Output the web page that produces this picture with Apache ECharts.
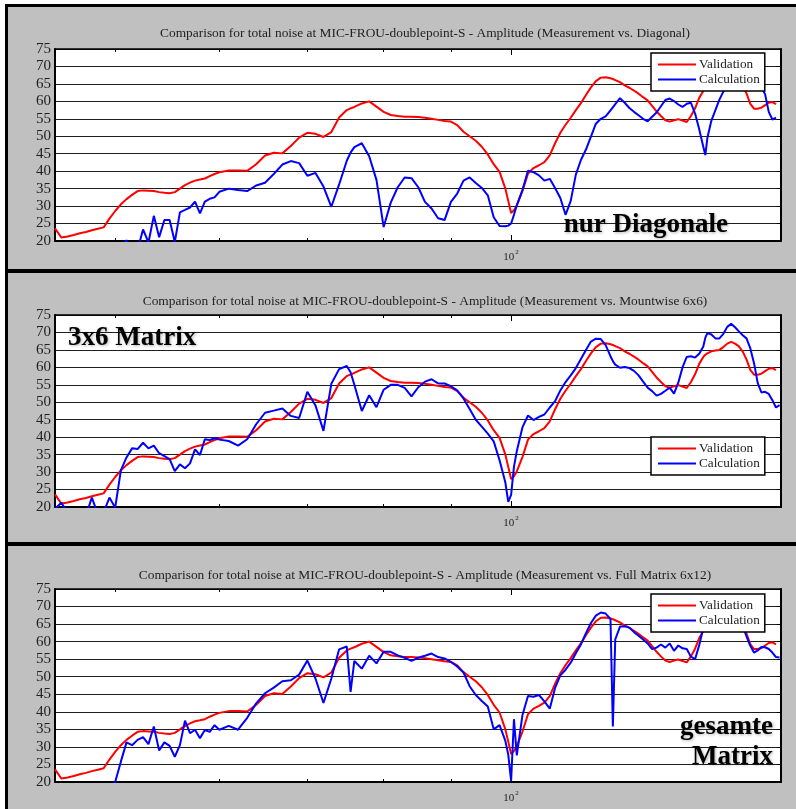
<!DOCTYPE html>
<html>
<head>
<meta charset="utf-8">
<title>Comparison for total noise at MIC-FROU-doublepoint-S</title>
<script src="https://cdn.jsdelivr.net/npm/echarts@6/dist/echarts.min.js"></script>
<style>
  html, body { margin: 0; padding: 0; background: #ffffff; }
  #chart { width: 796px; height: 809px; }
</style>
</head>
<body>
<div id="chart"></div>
<script>
// Frequency grid in Hz (half-hertz steps at the low end and at a few sharp features)
const freqs = [
  45, 45.5, 46, 46.5, 47, 47.5, 48, 48.5, 49, 49.5, 50, 50.5, 51, 51.5, 52, 52.5,
  53, 53.5, 54, 54.5, 55, 55.5, 56, 56.5, 57, 57.5, 58, 58.5, 59, 59.5, 60,
  61, 62, 63, 64, 65, 66, 67, 68, 69, 70, 71, 72, 73, 74, 75,
  75.5,
  76, 77, 78, 79, 80, 81, 82, 83, 84, 85, 86, 87, 88, 89, 90, 91, 92, 93, 94, 95, 96, 97, 98, 99,
  99.5, 100, 100.5,
  101, 102, 103, 104, 105, 106, 107, 108, 109, 110, 111, 112, 113, 114, 115, 116, 117, 118, 119,
  119.5,
  120, 121, 122, 123, 124, 125, 126, 127, 128, 129, 130, 131, 132, 133, 134, 135, 136, 137, 138, 139, 140,
  140.5,
  141, 142, 143, 144, 145, 146, 147, 148, 149, 150, 151, 152, 153, 154, 155, 156, 157, 158, 159, 160
];

// Measured level (dB) – identical in all three panels
const validation = [
  23.6, 21.0, 21.3, 21.7, 22.2, 22.6, 23.1, 23.5, 23.9, 26.4, 28.6, 30.5, 32.0, 33.2, 34.3, 34.5,
  34.4, 34.3, 34.0, 33.8, 33.7, 34.0, 35.0, 36.0, 36.7, 37.3, 37.6, 37.9, 38.6, 39.2, 39.7,
  40.2, 40.2, 40.1, 42.0, 44.5, 45.3, 45.1, 47.2, 49.6, 51.0, 50.7, 49.8, 51.2, 55.4, 57.5,
  58.0,
  58.4, 59.4, 60.0, 58.5, 57.0, 56.1, 55.8, 55.6, 55.6, 55.5, 55.3, 55.0, 54.7, 54.4, 54.2, 53.2,
  51.3, 50.0, 48.7, 47.0, 44.8, 42.0, 39.8, 35.0,
  31.5, 28.0, 28.8,
  30.2, 34.3, 39.3, 40.9, 41.7, 42.6, 44.5, 48.0, 51.0, 53.3, 55.3, 57.5, 59.5, 61.8, 64.0, 65.8, 66.8, 66.9, 66.6,
  66.4,
  66.1, 65.5, 64.6, 63.9, 63.1, 62.2, 61.2, 60.3, 58.7, 57.1, 55.8, 54.6, 54.2, 54.6, 54.9, 54.5, 54.1, 55.8, 58.0, 61.0, 63.0,
  63.6,
  64.0, 64.6, 64.8, 65.0, 65.8, 66.8, 67.3, 66.8, 66.0, 64.5, 62.3, 59.3, 57.9, 57.9, 58.2, 58.9, 59.6, 59.8, 59.2, null
];

// Calculation, diagonal terms only
const calcDiagonal = [
  null, null, null, null, null, null, null, null, null, null, null, 18.0, 20.2, 17.0, 17.5, 23.3,
  19.6, 27.2, 21.1, 26.0, 26.0, 19.7, 28.2, 28.9, 29.6, 31.3, 27.9, 31.3, 32.1, 32.5, 34.1,
  35.0, 34.6, 34.3, 35.9, 36.7, 39.2, 41.9, 42.9, 42.3, 38.7, 39.5, 35.6, 29.8, 36.2, 43.0,
  45.3,
  46.9, 48.0, 44.3, 37.5, 24.0, 31.0, 35.4, 38.2, 38.0, 35.4, 31.2, 29.3, 26.5, 26.0, 31.2, 33.6,
  37.3, 38.2, 36.6, 35.2, 33.1, 26.8, 24.3, 24.2,
  24.4, 25.0, 27.5,
  30.2, 34.6, 40.1, 39.7, 38.8, 37.3, 37.8, 35.2, 32.3, 27.5, 31.5, 39.0, 43.2, 46.2, 49.9, 53.6, 55.0, 55.7, 57.4,
  58.3,
  59.2, 60.9, 59.6, 58.1, 57.0, 56.0, 55.0, 54.3, 55.6, 56.8, 58.6, 60.4, 60.8, 60.1, 59.1, 58.4, 59.3, 59.6, 56.5, 52.0, 47.0,
  44.6,
  49.5, 54.5, 57.5, 60.5, 62.8, 64.5, 65.5, 66.5, 67.2, 67.5, 67.6, 67.4, 66.8, 65.8, 64.2, 62.0, 57.0, 54.8, 55.3, null
];

// Calculation, mountwise 6x6 matrix
const calcMountwise = [
  19.5, 21.2, 18.5, 17.0, 16.5, 17.5, 22.7, 18.0, 18.5, 22.7, 19.8, 30.5, 34.2, 36.8, 36.6, 38.4,
  36.8, 37.6, 35.4, 34.6, 33.7, 30.3, 32.2, 31.1, 32.5, 36.5, 34.9, 39.4, 39.2, 39.7, 39.3,
  38.9, 37.6, 39.4, 43.7, 47.0, 47.6, 48.2, 46.1, 45.5, 53.0, 49.1, 41.8, 55.3, 59.5, 60.4,
  58.6,
  55.0, 47.5, 52.0, 48.6, 53.6, 55.0, 55.0, 54.1, 51.7, 54.3, 55.9, 56.6, 55.4, 55.4, 54.6, 53.4,
  51.1, 48.1, 45.0, 43.0, 41.0, 38.8, 33.4, 27.0,
  21.5, 23.5, 31.5,
  36.0, 42.8, 46.2, 44.9, 45.8, 46.5, 48.5, 50.3, 53.4, 55.8, 57.7, 59.8, 62.4, 65.0, 67.4, 68.2, 68.1, 66.4, 63.2,
  61.8,
  60.8, 59.9, 60.1, 59.8, 59.0, 57.7, 55.9, 54.2, 53.2, 51.9, 52.4, 53.3, 54.2, 52.5, 55.6, 60.0, 63.0, 63.2, 62.8, 63.9, 66.0,
  68.5,
  69.8, 69.4, 68.3, 68.3, 69.6, 71.6, 72.5, 71.5, 70.3, 69.2, 68.3, 65.5, 61.2, 55.5, 52.8, 53.0, 52.4, 50.6, 48.5, 49.2
];

// Calculation, full 6x12 matrix
const calcFullMatrix = [
  null, null, null, null, null, null, null, null, null, 17.0, 20.0, 25.8, 31.3, 30.5, 32.0, 32.8,
  30.8, 35.8, 29.0, 31.3, 30.3, 27.2, 30.5, 37.5, 33.9, 34.9, 32.5, 34.8, 34.3, 36.2, 34.9,
  36.0, 34.9, 38.3, 42.4, 45.3, 46.9, 48.7, 49.0, 50.6, 54.6, 49.5, 42.5, 49.5, 57.8, 58.6,
  45.7,
  54.5, 52.3, 56.0, 53.8, 57.1, 57.1, 56.1, 55.4, 54.5, 55.4, 56.0, 56.6, 55.6, 55.2, 54.2, 52.9,
  51.2, 47.3, 44.8, 43.1, 41.5, 35.0, 36.2, 31.7,
  27.8, 20.3, 37.9,
  27.6, 39.0, 44.5, 44.3, 44.8, 43.0, 40.9, 46.8, 50.4, 52.0, 54.0, 56.7, 59.2, 62.4, 65.3, 67.4, 68.3, 68.0, 66.5,
  35.8,
  60.6, 64.3, 64.4, 64.0, 62.7, 61.7, 60.6, 59.5, 57.9, 58.3, 59.2, 58.3, 59.5, 57.4, 58.9, 58.1, 57.9, 55.7, 55.0, 59.0, 63.9,
  64.8,
  65.3, 65.8, 66.0, 66.4, 67.0, 67.6, 67.8, 67.2, 66.3, 64.5, 61.5, 58.8, 56.9, 57.5, 58.5, 58.4, 57.9, 56.9, 55.6, 55.5
];

const calculations = [calcDiagonal, calcMountwise, calcFullMatrix];

// Axis ticks
const xMinorTicks = [50, 60, 70, 80, 90];
const xDecadeTicks = [100];
const yMin = 20, yMax = 75, yStep = 5;

// Texts
const panelTitles = [
  'Comparison for total noise at MIC-FROU-doublepoint-S - Amplitude (Measurement vs. Diagonal)',
  'Comparison for total noise at MIC-FROU-doublepoint-S - Amplitude (Measurement vs. Mountwise 6x6)',
  'Comparison for total noise at MIC-FROU-doublepoint-S - Amplitude (Measurement vs. Full Matrix 6x12)'
];
const seriesNames = ['Validation', 'Calculation'];
const panelNotes = [
  [{ text: 'nur Diagonale', x: 728, y: 225, align: 'right' }],
  [{ text: '3x6 Matrix', x: 68, y: 338, align: 'left' }],
  [{ text: 'gesamte', x: 773, y: 727, align: 'right' },
   { text: 'Matrix', x: 773, y: 757, align: 'right' }]
];

// ---- layout ----
const SERIF = "'Liberation Serif', 'Times New Roman', serif";
const panels = [
  { top: 49,  height: 192, titleTop: 27,  legendTop: 53 },
  { top: 315, height: 192, titleTop: 295, legendTop: 437 },
  { top: 589, height: 193, titleTop: 569, legendTop: 594 }
];
// plain line used as legend marker
const LEGEND_LINE = 'path://M0,0H38V2H0Z';

const grid = [], xAxis = [], yAxis = [], series = [], title = [], legend = [], graphic = [];

panels.forEach((p, i) => {
  grid.push({
    left: 55, top: p.top, width: 726, height: p.height,
    show: true, backgroundColor: '#ffffff', borderWidth: 0
  });

  const logBase = {
    type: 'log', logBase: 10, min: 45, max: 160.4, gridIndex: i,
    splitLine: { show: false }, axisLabel: { show: false },
    axisTick: { show: false }, axisLine: { show: false }
  };
  const xBase = xAxis.length;
  // bottom frame + minor ticks
  xAxis.push(Object.assign({}, logBase, {
    position: 'bottom',
    axisLine: { show: true, onZero: false, lineStyle: { color: '#000', width: 2 } },
    axisTick: { show: true, inside: true, length: 3, customValues: xMinorTicks,
                lineStyle: { color: '#000', width: 1 } }
  }));
  // bottom decade tick + label
  xAxis.push(Object.assign({}, logBase, {
    position: 'bottom',
    axisTick: { show: true, inside: true, length: 6, customValues: xDecadeTicks,
                lineStyle: { color: '#000', width: 1 } },
    axisLabel: {
      show: true, customValues: xDecadeTicks, margin: 8,
      formatter: () => '{b|10}{e|2}',
      rich: {
        b: { fontFamily: SERIF, fontSize: 11, color: '#222', lineHeight: 14, verticalAlign: 'bottom' },
        e: { fontFamily: SERIF, fontSize: 7, color: '#222', lineHeight: 14, verticalAlign: 'top', padding: [0, 0, 0, 1] }
      }
    }
  }));
  // top frame + ticks
  xAxis.push(Object.assign({}, logBase, {
    position: 'top',
    axisLine: { show: true, onZero: false, lineStyle: { color: '#000', width: 1.5 } },
    axisTick: { show: true, inside: true, length: 3, customValues: xMinorTicks,
                lineStyle: { color: '#000', width: 1 } }
  }));
  xAxis.push(Object.assign({}, logBase, {
    position: 'top',
    axisTick: { show: true, inside: true, length: 6, customValues: xDecadeTicks,
                lineStyle: { color: '#000', width: 1 } }
  }));

  const yBase = yAxis.length;
  yAxis.push({
    type: 'value', gridIndex: i, position: 'left', min: yMin, max: yMax, interval: yStep,
    axisLine: { show: true, onZero: false, lineStyle: { color: '#000', width: 2 } },
    axisTick: { show: false },
    axisLabel: { fontFamily: SERIF, fontSize: 15, color: '#222', margin: 4 },
    splitLine: { show: true, lineStyle: { color: '#1e1e1e', width: 1 } }
  });
  yAxis.push({
    type: 'value', gridIndex: i, position: 'right', min: yMin, max: yMax, interval: yStep,
    axisLine: { show: true, onZero: false, lineStyle: { color: '#000', width: 2 } },
    axisTick: { show: true, inside: true, length: 4, lineStyle: { color: '#000', width: 1 } },
    axisLabel: { show: false },
    splitLine: { show: false }
  });

  const lineSeries = (name, values, color) => ({
    name, type: 'line', xAxisIndex: xBase, yAxisIndex: yBase,
    data: freqs.map((f, k) => [f, values[k]]),
    symbol: 'none', showSymbol: false, connectNulls: false, clip: true,
    lineStyle: { color, width: 2 }, itemStyle: { color },
    emphasis: { disabled: true }, silent: true
  });
  series.push(lineSeries(seriesNames[0], validation, '#ff0000'));
  series.push(lineSeries(seriesNames[1], calculations[i], '#0000ff'));

  title.push({
    text: panelTitles[i], left: 425, top: p.titleTop, textAlign: 'center', padding: 0,
    textStyle: { fontFamily: SERIF, fontSize: 13.4, fontWeight: 'normal', color: '#222' }
  });

  legend.push({
    data: seriesNames.map(name => ({ name, icon: LEGEND_LINE })),
    orient: 'vertical', left: 651, top: p.legendTop,
    padding: [5, 5, 5, 7], itemGap: 2, itemWidth: 38, itemHeight: 14,
    backgroundColor: '#ffffff', borderColor: '#000', borderWidth: 1.5, borderRadius: 0,
    selectedMode: false,
    textStyle: { fontFamily: SERIF, fontSize: 13.2, color: '#222', padding: [0, 0, 0, -2] }
  });

  panelNotes[i].forEach(n => {
    graphic.push({
      type: 'text', x: n.x, y: n.y, z: 50,
      style: {
        text: n.text, fill: '#000', font: 'bold 27px ' + SERIF,
        textAlign: n.align, textVerticalAlign: 'middle',
        textShadowColor: 'rgba(0,0,0,0.3)', textShadowBlur: 3,
        textShadowOffsetX: 1, textShadowOffsetY: 1
      }
    });
  });
});

// page margin and panel frames
graphic.push(
  { type: 'rect', z: 90, shape: { x: 0, y: 0, width: 796, height: 4 }, style: { fill: '#ffffff' } },
  { type: 'rect', z: 90, shape: { x: 0, y: 0, width: 5, height: 809 }, style: { fill: '#ffffff' } },
  { type: 'rect', z: 91, shape: { x: 5, y: 4, width: 791, height: 3 }, style: { fill: '#000' } },
  { type: 'rect', z: 91, shape: { x: 5, y: 4, width: 3, height: 805 }, style: { fill: '#000' } },
  { type: 'rect', z: 91, shape: { x: 5, y: 269, width: 791, height: 4 }, style: { fill: '#000' } },
  { type: 'rect', z: 91, shape: { x: 5, y: 542, width: 791, height: 4 }, style: { fill: '#000' } }
);

const chart = echarts.init(document.getElementById('chart'), null, { renderer: 'canvas' });
chart.setOption({
  backgroundColor: '#c0c0c0',
  animation: false,
  title, legend, grid, xAxis, yAxis, series, graphic
});
</script>
</body>
</html>
